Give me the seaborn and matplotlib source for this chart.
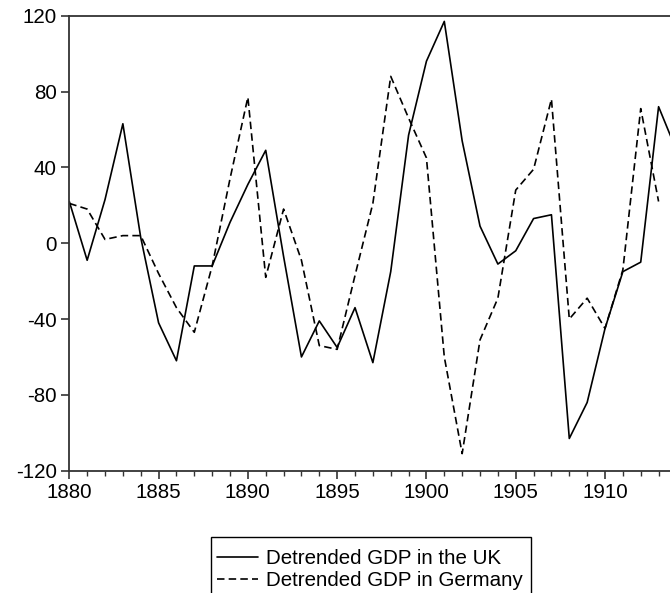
import numpy as np
import pandas as pd
import matplotlib
matplotlib.use("Agg")
import matplotlib.pyplot as plt
import seaborn as sns
from matplotlib.patches import Rectangle
from matplotlib.ticker import MultipleLocator, FixedLocator

years = list(range(1880, 1915))
uk_gdp = [22, -9, 23, 63, 3, -42, -62, -12, -12, 11, 31, 49, -7, -60, -41, -55,
          -34, -63, -15, 57, 96, 117, 54, 9, -11, -4, 13, 15, -103, -84, -45,
          -15, -10, 72, 49]
de_gdp = [21, 18, 2, 4, 4, -16, -34, -47, -12, 34, 77, -18, 18, -9, -54, -56,
          -17, 21, 88, 66, 45, -60, -111, -51, -29, 28, 39, 76, -40, -29, -45,
          -14, 71, 22, np.nan]
labels = ["Detrended GDP in the UK", "Detrended GDP in Germany"]

df = pd.DataFrame({"year": years, "uk": uk_gdp, "de": de_gdp})

sns.set_style("ticks")
plt.rcParams["font.family"] = ["Liberation Sans", "DejaVu Sans"]
plt.rcParams["axes.unicode_minus"] = False
plt.rcParams["text.color"] = "black"

W, H = 670, 593
fig = plt.figure(figsize=(6.7, 5.93), dpi=100)
ax = fig.add_axes([69.3 / W, 1 - 470.7 / H, 625 / W, (470.7 - 15.7) / H])

sns.lineplot(data=df, x="year", y="uk", ax=ax, color="black", lw=1.2, label=labels[0])
sns.lineplot(data=df, x="year", y="de", ax=ax, color="black", lw=1.2, label=labels[1])
ax.lines[1].set_dashes((4.5, 2.5))

ax.set_xlim(1880, 1915)
ax.set_ylim(-120, 120)
ax.set_yticks([-120, -80, -40, 0, 40, 80, 120])
ax.xaxis.set_major_locator(FixedLocator([1880, 1885, 1890, 1895, 1900, 1905, 1910]))
ax.xaxis.set_minor_locator(MultipleLocator(1))
ax.set_xlabel("")
ax.set_ylabel("")
ax.tick_params(axis="both", which="major", labelsize=14.8, length=6, width=1.2,
               color="#333333", labelcolor="black", direction="out", pad=3)
ax.tick_params(axis="x", which="minor", length=3.5, width=1, color="#333333")
for s in ax.spines.values():
    s.set_color("#333333")
    s.set_linewidth(1.3)

handles, labs = ax.get_legend_handles_labels()
ax.get_legend().remove()
# legend box runs off the bottom edge in the original, so draw frame by hand
fig.patches.append(Rectangle((211 / W, 1 - 600 / H), 320 / W, 63 / H,
                             transform=fig.transFigure, fill=False,
                             edgecolor="black", lw=1.0))
leg = fig.legend(handles, labs, loc="upper left",
                 bbox_to_anchor=(211 / W, 1 - 543 / H),
                 fontsize=14.8, frameon=False, borderpad=0.28, handlelength=2.0,
                 handletextpad=0.4, labelspacing=0.17, borderaxespad=0,
                 labelcolor="black")

fig.savefig("out.png", dpi=100)
